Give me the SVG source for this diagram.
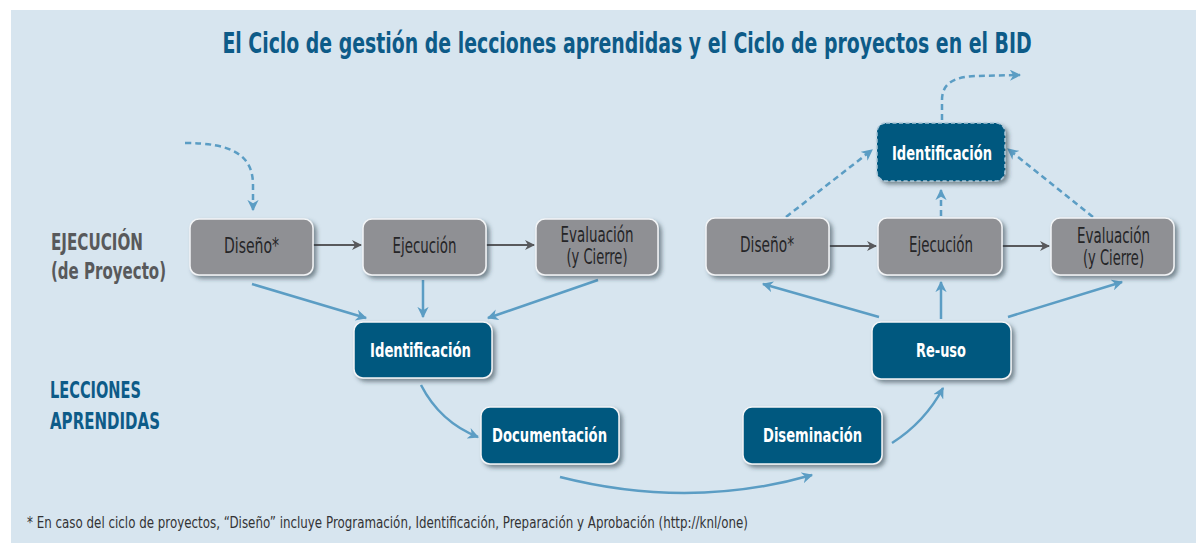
<svg xmlns="http://www.w3.org/2000/svg" width="1196" height="543" viewBox="0 0 1196 543">
<style>
.f{font-family:"Liberation Sans Narrow","DejaVu Sans Condensed","Liberation Sans",sans-serif}
.gbox{fill:#8f9094;stroke:#f2f4f6;stroke-width:1.5;filter:url(#sh)}
.bbox{fill:#03587f;stroke:#f2f4f6;stroke-width:1.5;filter:url(#sh)}
.gt{fill:#252527;font-size:21px;text-anchor:middle}
.bt{fill:#ffffff;font-size:20px;font-weight:bold;text-anchor:middle}
.ga{stroke:#58595c;stroke-width:2;fill:none;marker-end:url(#ag)}
.ba{stroke:#5b9dc4;stroke-width:2.5;fill:none;marker-end:url(#ab)}
.da{stroke:#5b9dc4;stroke-width:2.5;fill:none;stroke-dasharray:6 4;marker-end:url(#ab)}
</style>
<defs>
<filter id="sh" x="-10%" y="-10%" width="130%" height="140%">
<feDropShadow dx="3" dy="3" stdDeviation="2" flood-color="#2a3a45" flood-opacity="0.55"/>
</filter>
<marker id="ag" viewBox="0 0 10 10" refX="9" refY="5" markerWidth="5" markerHeight="5" orient="auto" markerUnits="strokeWidth">
<path d="M0,0 L10,5 L0,10 L3,5 Z" fill="#58595c"/>
</marker>
<marker id="ab" viewBox="0 0 10 10" refX="9" refY="5" markerWidth="4.5" markerHeight="4.5" orient="auto" markerUnits="strokeWidth">
<path d="M0,0 L10,5 L0,10 L3,5 Z" fill="#5b9dc4"/>
</marker>
</defs>
<rect x="0" y="0" width="1196" height="543" fill="#ffffff"/>
<rect x="11" y="10" width="1185" height="533" fill="#d7e5ef"/>

<text class="f" transform="translate(627,53) scale(0.75,1)" x="0" y="0" fill="#0d5b88" font-size="29" font-weight="bold" text-anchor="middle" textLength="1079" lengthAdjust="spacingAndGlyphs">El Ciclo de gestión de lecciones aprendidas y el Ciclo de proyectos en el BID</text>

<g id="label-ejecucion">
<text class="f" x="51" y="250" fill="#58595b" font-size="23" font-weight="bold" textLength="92" lengthAdjust="spacingAndGlyphs">EJECUCIÓN</text>
<text class="f" x="51" y="279" fill="#58595b" font-size="23" font-weight="bold" textLength="115" lengthAdjust="spacingAndGlyphs">(de Proyecto)</text>
</g>
<g id="label-lecciones">
<text class="f" x="50" y="398" fill="#0d5b88" font-size="23" font-weight="bold" textLength="91" lengthAdjust="spacingAndGlyphs">LECCIONES</text>
<text class="f" x="50" y="429" fill="#0d5b88" font-size="23" font-weight="bold" textLength="110" lengthAdjust="spacingAndGlyphs">APRENDIDAS</text>
</g>

<g id="connectors">
<path class="ga" d="M313,245 L361,245"/>
<path class="ga" d="M486,245 L534,245"/>
<path class="ga" d="M829,246 L876,246"/>
<path class="ga" d="M1002,246 L1049,246"/>
<path class="ba" d="M252,284 L366,318"/>
<path class="ba" d="M423,280 L423,317"/>
<path class="ba" d="M598,280 L488,318"/>
<path class="ba" d="M421,385 Q440,422 478,437"/>
<path class="ba" d="M560,477 Q690,510 812,475"/>
<path class="ba" d="M892,443 Q925,422 943,388"/>
<path class="ba" d="M879,317 L763,284"/>
<path class="ba" d="M941,319 L941,282"/>
<path class="ba" d="M1008,317 L1122,282"/>
<path class="da" d="M185,143 C232,143 253,155 253,185 L253,210"/>
<path class="da" d="M786,217 L872,150"/>
<path class="da" d="M941,216 L941,190"/>
<path class="da" d="M1093,217 L1008,149"/>
<path class="da" d="M942,120 L942,100 C942,84 953,77 975,76 L1020,75"/>
</g>

<g id="n-diseno1"><rect class="gbox" x="190" y="219" width="123" height="56" rx="9"/><text class="f gt" x="251.5" y="253" textLength="55" lengthAdjust="spacingAndGlyphs">Diseño*</text></g>
<g id="n-ejecucion1"><rect class="gbox" x="363" y="219" width="123" height="56" rx="9"/><text class="f gt" x="424.5" y="253" textLength="64" lengthAdjust="spacingAndGlyphs">Ejecución</text></g>
<g id="n-evaluacion1"><rect class="gbox" x="536" y="219" width="122" height="56" rx="9"/><text class="f gt" x="597" y="242" textLength="73" lengthAdjust="spacingAndGlyphs">Evaluación</text><text class="f gt" x="597" y="264" textLength="61" lengthAdjust="spacingAndGlyphs">(y Cierre)</text></g>

<g id="n-diseno2"><rect class="gbox" x="706" y="218" width="123" height="57" rx="9"/><text class="f gt" x="767" y="252" textLength="54" lengthAdjust="spacingAndGlyphs">Diseño*</text></g>
<g id="n-ejecucion2"><rect class="gbox" x="878" y="218" width="124" height="57" rx="9"/><text class="f gt" x="941" y="252" textLength="64" lengthAdjust="spacingAndGlyphs">Ejecución</text></g>
<g id="n-evaluacion2"><rect class="gbox" x="1051" y="218" width="123" height="57" rx="9"/><text class="f gt" x="1113.5" y="243" textLength="73" lengthAdjust="spacingAndGlyphs">Evaluación</text><text class="f gt" x="1113.5" y="265" textLength="61" lengthAdjust="spacingAndGlyphs">(y Cierre)</text></g>

<g id="n-identificacion1"><rect class="bbox" x="354" y="322" width="138" height="56" rx="9"/><text class="f bt" x="420.5" y="357" textLength="101" lengthAdjust="spacingAndGlyphs">Identificación</text></g>
<g id="n-documentacion"><rect class="bbox" x="481" y="407" width="138" height="57" rx="9"/><text class="f bt" x="549.5" y="442" textLength="115" lengthAdjust="spacingAndGlyphs">Documentación</text></g>
<g id="n-diseminacion"><rect class="bbox" x="743" y="407" width="139" height="57" rx="9"/><text class="f bt" x="812.5" y="442" textLength="99" lengthAdjust="spacingAndGlyphs">Diseminación</text></g>
<g id="n-reuso"><rect class="bbox" x="872" y="322" width="139" height="57" rx="9"/><text class="f bt" x="941" y="357" textLength="50" lengthAdjust="spacingAndGlyphs">Re-uso</text></g>
<g id="n-identificacion2"><rect class="bbox" x="877" y="123" width="128" height="58" rx="9" style="stroke:#a9c6d8;stroke-dasharray:4 2.5"/><text class="f bt" x="942" y="160" textLength="100" lengthAdjust="spacingAndGlyphs">Identificación</text></g>

<text class="f" x="27" y="528" fill="#333335" font-size="15" textLength="721" lengthAdjust="spacingAndGlyphs">* En caso del ciclo de proyectos, “Diseño” incluye Programación, Identificación, Preparación y Aprobación (http://knl/one)</text>
</svg>
